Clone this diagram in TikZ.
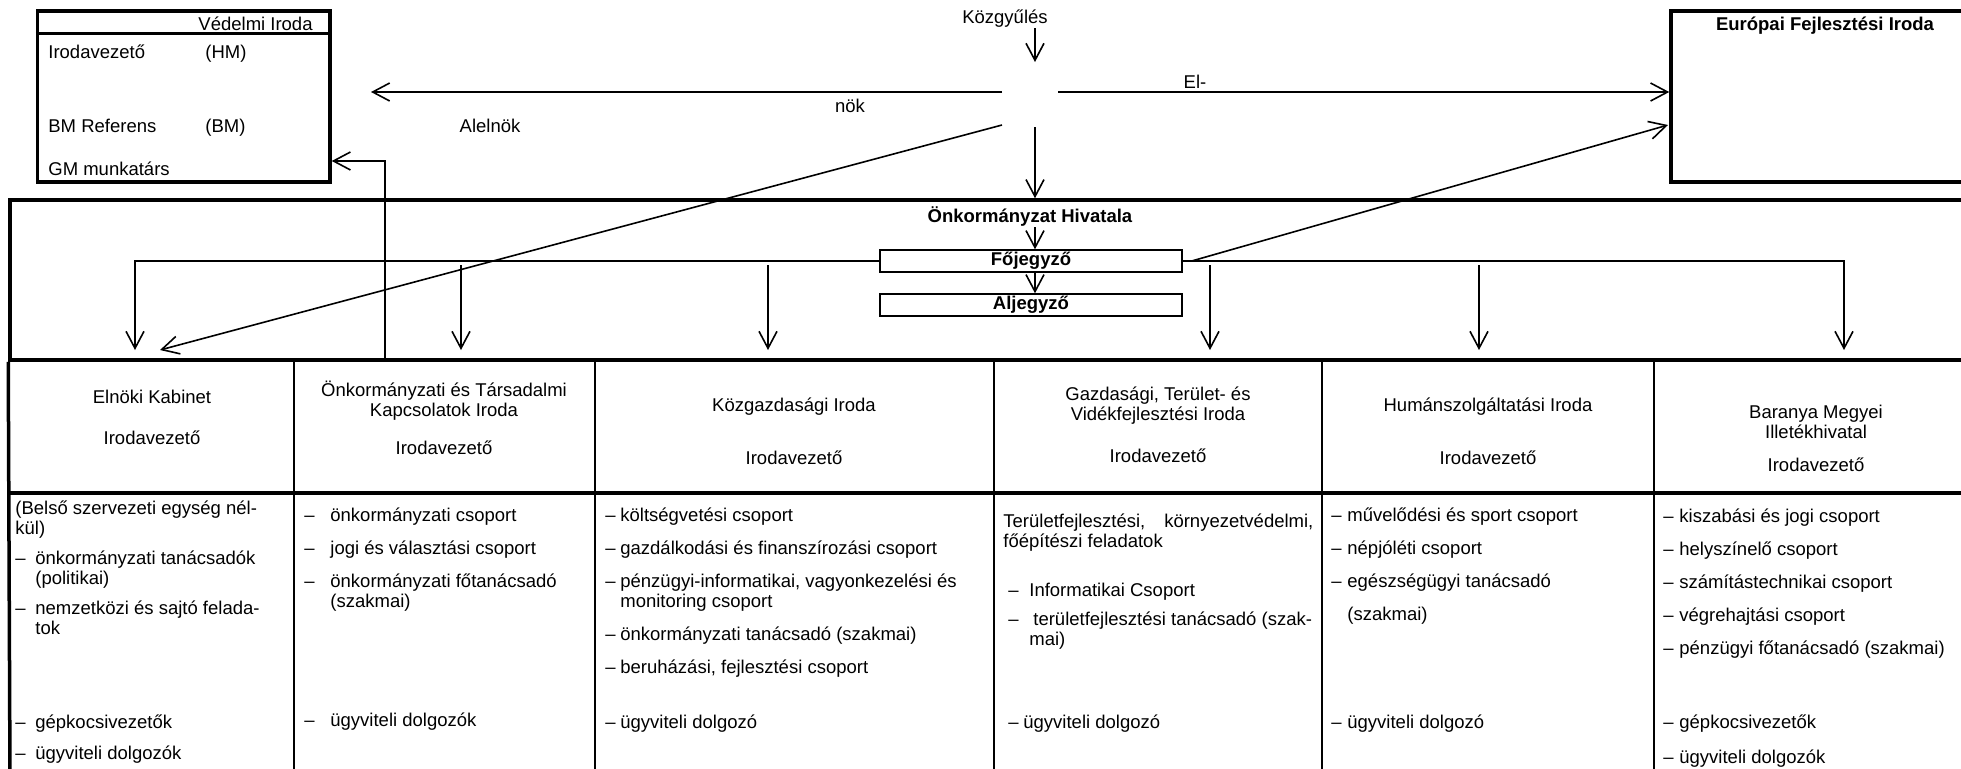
\documentclass[tikz,border=0pt]{standalone}
\usepackage{fontspec}
\setmainfont{Liberation Sans}
\usetikzlibrary{arrows.meta}

\newcommand{\vonal}[1][8pt]{\makebox[#1][l]{–}}
\newcommand{\beh}[1][8pt]{\hspace*{#1}}

\begin{document}
\begin{tikzpicture}
[x=0.5pt,y=-0.5pt,%
  every node/.style={inner sep=0pt,font=\fontsize{9.25pt}{10pt}\selectfont},%
  keret/.style={draw,line width=1.75pt},%
  valaszto/.style={line width=1pt},%
  felkover/.style={font=\fontsize{9.25pt}{10pt}\selectfont\bfseries},%
  nyil/.style={line width=0.8pt,-{Straight Barb[length=8.5pt,width=9pt]}},%
  jegyzo/.style={draw,line width=0.7pt,minimum width=151pt,minimum height=11pt,felkover},%
  fej/.style={align=center,anchor=base},%
  lista/.style={align=left,anchor=base west}]
\useasboundingbox (0,0) rectangle (1961,768);
\clip (0,0) rectangle (1961,768);

\node[keret,minimum width=146.25pt,minimum height=85.5pt] (vedelmi) at (183.75,96.5) {};
\draw[line width=1.75pt] ([yshift=-12pt]vedelmi.north west) -- ([yshift=-12pt]vedelmi.north east);
\node[anchor=base east] (vedcim) at (313,30) {Védelmi Iroda};
\node[anchor=base west] (irv) at (48,58) {Irodavezető};
\node[anchor=base west] (hm) at (205,58) {(HM)};
\node[anchor=base west] (bmref) at (48,132) {BM Referens};
\node[anchor=base west] (bm) at (205,132) {(BM)};
\node[anchor=base west] (gm) at (48,175) {GM munkatárs};

\node[keret,minimum width=164.5pt,minimum height=85.5pt] (europai) at (1835.5,96.5) {};
\node[felkover,anchor=base] (eucim) at (1825,30) {Európai Fejlesztési Iroda};

\node (kozgy) at (1005,19) {Közgyűlés};
\coordinate (kp) at (1035,92);
\node (el) at (1195,82) {El-};
\node (nok) at (850,106) {nök};
\node (alelnok) at (490,126) {Alelnök};

\node[keret,minimum width=990pt,minimum height=80pt] (hivatal) at (1000,280) {};
\node[felkover] (hivcim) at (1030,217) {Önkormányzat Hivatala};
\node[jegyzo] (fojegyzo) at (1031,261) {Főjegyző};
\node[jegyzo] (aljegyzo) at (1031,305) {Aljegyző};

\draw[line width=1.75pt] (hivatal.south west) -- (10,780);
\draw[line width=1.75pt] (10,493) -- (1990,493);
\foreach \x in {294,595,994,1322,1654}
  \draw[valaszto] (\x,360) -- (\x,780);

\node[fej] (h1) at (152,444) {Elnöki Kabinet\\[10.5pt]Irodavezető};
\node[fej] (h2) at (444,454) {Önkormányzati és Társadalmi\\Kapcsolatok Iroda\\[9pt]Irodavezető};
\node[fej] (h3) at (794,464) {Közgazdasági Iroda\\[16.5pt]Irodavezető};
\node[fej] (h4) at (1158,462) {Gazdasági, Terület- és\\Vidékfejlesztési Iroda\\[11pt]Irodavezető};
\node[fej] (h5) at (1488,464) {Humánszolgáltatási Iroda\\[16.5pt]Irodavezető};
\node[fej] (h6) at (1816,471) {Baranya Megyei\\Illetékhivatal\\[6.5pt]Irodavezető};

\node[lista] (t1) at (15,634) {(Belső szervezeti egység nél-\\kül)\\[5pt]%
  \vonal[10pt]önkormányzati tanácsadók\\\beh[10pt](politikai)\\[5pt]%
  \vonal[10pt]nemzetközi és sajtó felada-\\\beh[10pt]tok};
\node[lista] (t1b) at (15,759) {\vonal[10pt]gépkocsivezetők\\[5.5pt]\vonal[10pt]ügyviteli dolgozók};
\node[lista] (t2) at (304,607) {\vonal[13pt]önkormányzati csoport\\[6.5pt]%
  \vonal[13pt]jogi és választási csoport\\[6.5pt]%
  \vonal[13pt]önkormányzati főtanácsadó\\\beh[13pt](szakmai)};
\node[lista] (t2b) at (304,726) {\vonal[13pt]ügyviteli dolgozók};
\node[lista] (t3) at (605,673) {\vonal[7.5pt]költségvetési csoport\\[6.5pt]%
  \vonal[7.5pt]gazdálkodási és finanszírozási csoport\\[6.5pt]%
  \vonal[7.5pt]pénzügyi-informatikai, vagyonkezelési és\\\beh[7.5pt]monitoring csoport\\[6.5pt]%
  \vonal[7.5pt]önkormányzati tanácsadó (szakmai)\\[6.5pt]%
  \vonal[7.5pt]beruházási, fejlesztési csoport};
\node[lista] (t3b) at (605,728) {\vonal[7.5pt]ügyviteli dolgozó};
\node[lista] (t4) at (1003,645) {\makebox[155pt][s]{Területfejlesztési, környezetvédelmi,}\\főépítészi feladatok\\[14.5pt]%
  \hspace*{2.5pt}\vonal[10.5pt]Informatikai Csoport\\[4.5pt]%
  \hspace*{2.5pt}\vonal[12.5pt]területfejlesztési tanácsadó (szak-\\\beh[13pt]mai)};
\node[lista] (t4b) at (1003,728) {\hspace*{2.5pt}\vonal[7.5pt]ügyviteli dolgozó};
\node[lista] (t5) at (1331,620) {\vonal művelődési és sport csoport\\[6.5pt]%
  \vonal népjóléti csoport\\[6.5pt]%
  \vonal egészségügyi tanácsadó\\[6.5pt]\beh(szakmai)};
\node[lista] (t5b) at (1331,728) {\vonal ügyviteli dolgozó};
\node[lista] (t6) at (1663,654) {\vonal kiszabási és jogi csoport\\[6.5pt]%
  \vonal helyszínelő csoport\\[6.5pt]%
  \vonal számítástechnikai csoport\\[6.5pt]%
  \vonal végrehajtási csoport\\[6.5pt]%
  \vonal pénzügyi főtanácsadó (szakmai)};
\node[lista] (t6b) at (1663,763) {\vonal gépkocsivezetők\\[7.5pt]\vonal ügyviteli dolgozók};

\coordinate (balcsucs) at (371,92);
\coordinate (elnokcsucs) at (160,350);
\coordinate (eurocsucs) at (1668,125);
\coordinate (gmtalp) at (385,358);
\coordinate (elso) at (135,350);
\coordinate (hatodik) at (1844,350);

\draw[nyil] (kozgy.south -| kp) -- ([yshift=15pt]kp);
\draw[nyil] ([xshift=-16.5pt]kp) -- (balcsucs);
\draw[nyil] ([xshift=11.5pt]kp) -- (europai.west |- kp);
\draw[nyil] ([shift={(-16.5pt,-16.5pt)}]kp) -- (elnokcsucs);
\draw[nyil] ([yshift=-17.5pt]kp) -- (hivatal.north -| kp);
\draw[nyil] ([xshift=4.5pt]fojegyzo.east) -- (eurocsucs);
\draw[nyil] (gmtalp) |- (gm.north -| vedelmi.east);
\draw[nyil] (hivcim.south -| kp) -- (fojegyzo.north -| kp);
\draw[nyil] (fojegyzo.south -| kp) -- (aljegyzo.north -| kp);
\draw[nyil] (fojegyzo.west) -| (elso);
\draw[nyil] (fojegyzo.east) -| (hatodik);
\foreach \x in {461,768,1210,1479}
  \draw[nyil] (\x,265) -- (\x,350);
\end{tikzpicture}
\end{document}
